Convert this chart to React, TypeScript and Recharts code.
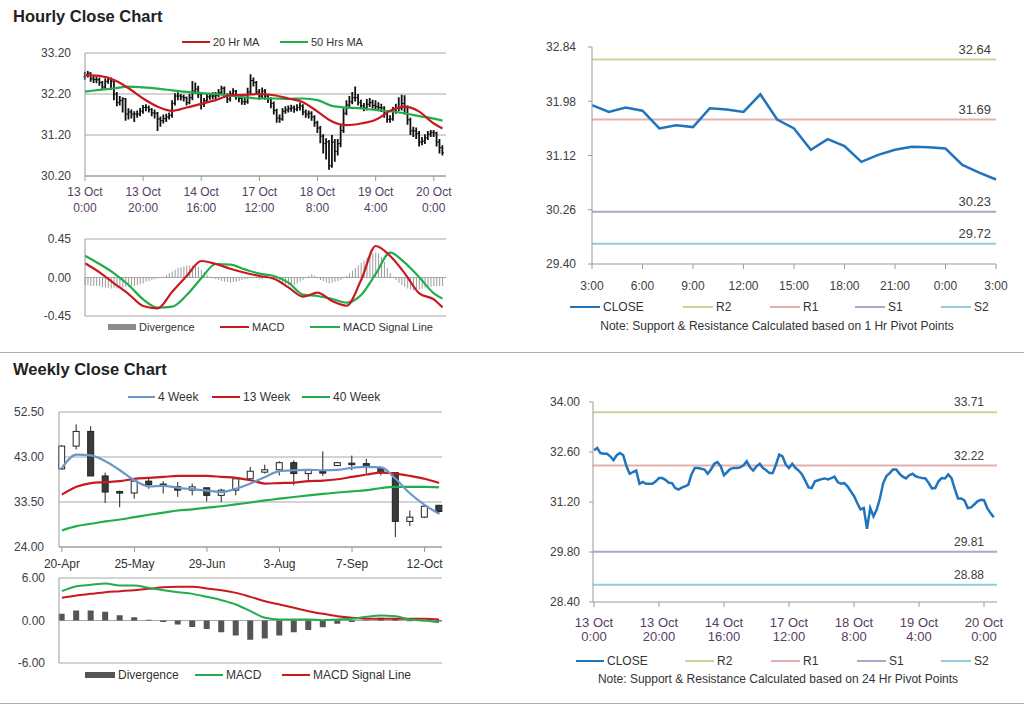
import React from 'react';
import { ComposedChart, Line, Bar, XAxis, YAxis, CartesianGrid, ReferenceLine } from 'recharts';

const FONT = '"Liberation Sans", Arial, Helvetica, sans-serif';

// ---------- Hourly data (13 Oct 0:00 .. 20 Oct 3:00) ----------
const hourlyFirstOpen = 32.62;
const hourlyClose = [
  32.65, 32.71, 32.57, 32.55, 32.55, 32.48, 32.37, 32.51, 32.57, 32.51,
  32.20, 31.99, 32.04, 32.08, 31.71, 31.76, 31.71, 31.71, 31.71, 31.78,
  31.87, 31.87, 31.82, 31.74, 31.73, 31.59, 31.55, 31.60, 31.64, 31.68,
  31.97, 32.15, 32.15, 32.13, 32.11, 31.99, 32.11, 32.27, 32.32, 32.20,
  31.95, 32.04, 32.13, 32.15, 32.15, 32.17, 32.23, 32.34, 32.17, 32.08,
  32.20, 32.27, 32.15, 32.09, 32.01, 32.01, 32.25, 32.53, 32.48, 32.25,
  32.15, 32.27, 32.15, 32.08, 31.97, 31.80, 31.61, 31.59, 31.78, 31.81,
  31.84, 31.86, 31.83, 31.87, 31.91, 31.76, 31.71, 31.73, 31.64, 31.50,
  31.37, 31.17, 30.99, 31.03, 30.45, 31.03, 30.80, 30.99, 31.31, 31.73,
  31.93, 32.01, 32.11, 32.11, 31.99, 31.91, 31.86, 31.95, 31.99, 31.92,
  31.89, 31.87, 31.86, 31.73, 31.58, 31.59, 31.78, 31.87, 31.86, 31.97,
  31.87, 31.57, 31.30, 31.30, 31.24, 31.03, 31.05, 31.13, 31.22, 31.26,
  31.25, 31.03, 30.89, 30.77,
];
const hourlyHigh = [
  32.74, 32.76, 32.73, 32.64, 32.62, 32.60, 32.52, 32.58, 32.62, 32.60,
  32.52, 32.25, 32.15, 32.12, 32.10, 31.85, 31.82, 31.78, 31.80, 31.86,
  31.93, 31.95, 31.92, 31.86, 31.82, 31.76, 31.65, 31.70, 31.72, 31.75,
  32.05, 32.22, 32.24, 32.20, 32.18, 32.14, 32.20, 32.52, 32.48, 32.40,
  32.25, 32.10, 32.20, 32.22, 32.24, 32.25, 32.32, 32.40, 32.38, 32.22,
  32.28, 32.34, 32.30, 32.20, 32.14, 32.10, 32.35, 32.68, 32.60, 32.52,
  32.32, 32.36, 32.32, 32.20, 32.12, 32.02, 31.84, 31.70, 31.86, 31.90,
  31.92, 31.94, 31.92, 31.95, 31.99, 31.95, 31.82, 31.80, 31.78, 31.68,
  31.55, 31.42, 31.22, 31.12, 31.08, 31.20, 31.10, 31.10, 31.45, 31.85,
  32.05, 32.15, 32.25, 32.38, 32.20, 32.06, 31.98, 32.08, 32.10, 32.06,
  32.05, 32.00, 31.96, 31.90, 31.78, 31.68, 31.88, 31.96, 32.12, 32.18,
  32.17, 31.92, 31.62, 31.40, 31.38, 31.30, 31.15, 31.22, 31.30, 31.32,
  31.32, 31.28, 31.10, 30.95,
];
const hourlyLow = [
  32.55, 32.60, 32.50, 32.47, 32.46, 32.40, 32.30, 32.33, 32.45, 32.30,
  32.05, 31.90, 31.92, 31.75, 31.55, 31.58, 31.60, 31.52, 31.62, 31.66,
  31.72, 31.78, 31.75, 31.66, 31.60, 31.30, 31.40, 31.48, 31.52, 31.58,
  31.62, 31.92, 32.05, 32.04, 32.02, 31.92, 31.95, 32.05, 32.20, 32.10,
  31.82, 31.88, 31.98, 32.06, 32.07, 32.08, 32.12, 32.18, 32.10, 31.98,
  32.02, 32.14, 32.06, 32.00, 31.94, 31.93, 31.96, 32.20, 32.38, 32.18,
  32.06, 32.10, 32.06, 31.98, 31.85, 31.70, 31.50, 31.50, 31.55, 31.72,
  31.75, 31.77, 31.74, 31.78, 31.80, 31.68, 31.62, 31.60, 31.55, 31.40,
  31.25, 31.00, 30.75, 30.60, 30.35, 30.40, 30.55, 30.70, 30.90, 31.25,
  31.68, 31.88, 31.95, 32.02, 31.92, 31.84, 31.78, 31.80, 31.88, 31.84,
  31.80, 31.78, 31.76, 31.62, 31.50, 31.50, 31.55, 31.72, 31.78, 31.80,
  31.70, 31.45, 31.20, 31.15, 31.10, 30.92, 30.95, 30.98, 31.08, 31.15,
  31.15, 30.92, 30.75, 30.70,
];
const hourlyTickIdx = [0, 20, 40, 60, 80, 100, 120];
const hourlyTickDate = ['13 Oct', '13 Oct', '14 Oct', '17 Oct', '18 Oct', '19 Oct', '20 Oct'];
const hourlyTickTime = ['0:00', '20:00', '16:00', '12:00', '8:00', '4:00', '0:00'];

// moving averages & MACD sampled at these hour indexes
const hourlySampleIdx = [0, 5, 10, 15, 20, 25, 30, 35, 40, 45, 50, 55, 60, 65, 70, 75, 80, 85, 90, 95, 100, 105, 110, 115, 120, 123];
const ma20Hr = [32.66, 32.64, 32.54, 32.34, 32.09, 31.89, 31.79, 31.87, 31.96, 32.05, 32.17, 32.18, 32.20, 32.17, 32.09, 32.00, 31.77, 31.53, 31.44, 31.48, 31.57, 31.79, 31.89, 31.77, 31.48, 31.36];
const ma50Hr = [32.26, 32.30, 32.34, 32.38, 32.36, 32.33, 32.29, 32.25, 32.22, 32.20, 32.16, 32.12, 32.09, 32.09, 32.08, 32.09, 32.05, 31.91, 31.87, 31.85, 31.81, 31.78, 31.73, 31.66, 31.60, 31.55];
const hourlyMacd = [0.166, 0.06, -0.068, -0.193, -0.333, -0.36, -0.166, 0.018, 0.193, 0.158, 0.103, 0.056, 0.018, -0.014, -0.115, -0.224, -0.177, -0.275, -0.33, -0.03, 0.368, 0.251, 0.049, -0.185, -0.255, -0.349];
const hourlySignal = [0.255, 0.158, 0.049, -0.088, -0.255, -0.353, -0.341, -0.205, -0.01, 0.158, 0.150, 0.095, 0.045, 0.018, -0.06, -0.2, -0.216, -0.251, -0.294, -0.205, 0.041, 0.29, 0.173, 0.002, -0.185, -0.247];
const hourlyDivergence = [
  -0.09, -0.09, -0.10, -0.10, -0.10, -0.10, -0.11, -0.12, -0.12, -0.13,
  -0.12, -0.13, -0.12, -0.12, -0.11, -0.11, -0.10, -0.10, -0.09, -0.08,
  -0.07, -0.05, -0.04, -0.03, -0.02, -0.01, 0.00, 0.01, 0.03, 0.05,
  0.07, 0.09, 0.11, 0.12, 0.13, 0.14, 0.14, 0.14, 0.13, 0.12,
  0.09, 0.06, 0.03, 0.01, -0.01, -0.02, -0.03, -0.04, -0.05, -0.05,
  -0.06, -0.05, -0.05, -0.04, -0.03, -0.02, -0.02, -0.01, -0.01, -0.01,
  -0.02, -0.02, -0.01, -0.01, -0.02, -0.03, -0.04, -0.05, -0.07, -0.08,
  -0.09, -0.10, -0.09, -0.07, -0.05, -0.03, -0.01, 0.02, 0.04, 0.02,
  -0.01, -0.03, -0.04, -0.06, -0.07, -0.06, -0.05, -0.04, -0.03, -0.01,
  0.02, 0.05, 0.08, 0.11, 0.14, 0.17, 0.20, 0.23, 0.26, 0.28,
  0.29, 0.28, 0.24, 0.18, 0.11, 0.05, 0.01, -0.03, -0.06, -0.09,
  -0.11, -0.13, -0.14, -0.15, -0.15, -0.14, -0.13, -0.12, -0.11, -0.11,
  -0.10, -0.10, -0.10, -0.10,
];

// ---------- 1 Hr pivot chart ----------
const pivotHours = ['3:00', '4:00', '5:00', '6:00', '7:00', '8:00', '9:00', '10:00', '11:00', '12:00', '13:00', '14:00', '15:00', '16:00', '17:00', '18:00', '19:00', '20:00', '21:00', '22:00', '23:00', '0:00', '1:00', '2:00', '3:00'];
const pivotClose = [31.92, 31.81, 31.88, 31.83, 31.55, 31.60, 31.57, 31.87, 31.85, 31.81, 32.09, 31.69, 31.55, 31.21, 31.38, 31.27, 31.02, 31.13, 31.21, 31.26, 31.25, 31.23, 30.97, 30.85, 30.74];
const levelNames = ['R2', 'R1', 'S1', 'S2'];
const levelColors = ['#c4d79b', '#e6b0b0', '#b4a2c8', '#92cddc'];
const levels1Hr = [32.64, 31.69, 30.23, 29.72];
const levels24Hr = [33.71, 32.22, 29.81, 28.88];

// ---------- Weekly data ----------
const weekLabels = ['20-Apr', '27-Apr', '4-May', '11-May', '18-May', '25-May', '1-Jun', '8-Jun', '15-Jun', '22-Jun', '29-Jun', '6-Jul', '13-Jul', '20-Jul', '27-Jul', '3-Aug', '10-Aug', '17-Aug', '24-Aug', '31-Aug', '7-Sep', '14-Sep', '21-Sep', '28-Sep', '5-Oct', '12-Oct', '19-Oct'];
const wOpen = [40.5, 45.3, 48.4, 39.0, 35.7, 35.4, 37.9, 37.3, 36.7, 36.0, 36.5, 34.9, 36.0, 38.4, 39.8, 40.3, 41.8, 39.5, 40.0, 41.2, 41.7, 41.6, 40.7, 39.7, 29.4, 30.3, 32.8];
const wHigh = [45.5, 49.9, 49.5, 39.7, 35.9, 38.3, 38.8, 37.9, 37.7, 37.4, 36.5, 36.3, 38.6, 40.9, 41.4, 42.1, 42.3, 40.5, 44.2, 41.9, 43.3, 42.6, 40.9, 39.7, 31.7, 32.9, 32.9];
const wLow = [40.3, 44.6, 39.0, 33.3, 32.4, 34.2, 36.3, 35.3, 34.6, 34.9, 33.6, 33.5, 34.9, 38.1, 39.5, 39.1, 37.0, 38.1, 39.0, 41.1, 40.2, 39.5, 39.1, 26.1, 28.4, 30.1, 31.0];
const wClose = [45.3, 48.4, 39.0, 35.6, 35.4, 37.9, 37.2, 37.0, 36.0, 36.7, 34.9, 36.0, 38.4, 40.0, 40.3, 41.8, 39.5, 40.2, 39.6, 41.8, 41.5, 41.2, 39.7, 29.4, 30.3, 32.6, 31.5];
const w4Week = [40.7, 43.5, 43.35, 42.1, 40.2, 38.1, 36.8, 36.9, 36.5, 36.2, 35.9, 35.6, 36.3, 37.4, 38.8, 40.0, 40.2, 40.3, 40.2, 40.3, 40.7, 40.9, 40.8, 38.4, 35.3, 32.9, 31.0];
const w13Week = [35.05, 36.7, 37.5, 37.7, 37.9, 38.4, 38.6, 38.8, 39.0, 39.0, 39.0, 38.8, 38.6, 38.1, 37.4, 37.5, 37.6, 37.9, 38.0, 38.3, 38.8, 39.3, 39.7, 39.5, 39.0, 38.4, 37.5];
const w40Week = [27.5, 28.4, 28.9, 29.4, 29.8, 30.3, 30.8, 31.25, 31.7, 31.95, 32.3, 32.6, 33.0, 33.4, 33.85, 34.2, 34.55, 34.9, 35.2, 35.5, 35.75, 36.0, 36.45, 36.7, 36.7, 36.7, 36.6];
const wDivergence = [0.94, 1.41, 1.41, 1.22, 0.75, 0.47, 0.1, -0.2, -0.56, -0.9, -1.2, -1.65, -2.1, -2.7, -2.55, -2.1, -1.65, -1.35, -0.95, -0.47, -0.2, 0.05, 0.4, 0.2, -0.1, -0.1, -0.15];
const wMacd = [4.14, 4.85, 5.04, 5.22, 4.94, 4.94, 4.6, 4.28, 4.0, 3.76, 3.34, 2.87, 2.26, 1.32, 0.38, 0.14, 0.14, 0.14, 0.05, 0.14, 0.24, 0.52, 0.7, 0.6, 0.14, 0.0, -0.24];
const wSignal = [3.2, 3.53, 3.76, 4.0, 4.14, 4.28, 4.47, 4.7, 4.75, 4.75, 4.52, 4.28, 3.9, 3.34, 2.73, 2.26, 1.79, 1.32, 0.94, 0.61, 0.38, 0.24, 0.24, 0.24, 0.24, 0.24, 0.14];
const weekTickIdx = [0, 5, 10, 15, 20, 25];

// ---------- colours ----------
const RED = '#c8191f';
const GREEN = '#22ad4c';
const BLUE_CLOSE = '#1f74be';
const BLUE_4W = '#6b98cc';
const AXIS = '#9a9a9a';
const GRID = '#a8a8a8';
const TICK = '#404040';
const DATE_TXT = '#573d63';

// ---------- tables ----------
const hourlyRows = hourlyClose.map((c, i) => {
  const s = hourlySampleIdx.indexOf(i);
  return {
    i,
    open: i === 0 ? hourlyFirstOpen : hourlyClose[i - 1],
    high: hourlyHigh[i],
    low: hourlyLow[i],
    close: c,
    range: [hourlyLow[i], hourlyHigh[i]],
    div: hourlyDivergence[i],
    ma20: s >= 0 ? ma20Hr[s] : null,
    ma50: s >= 0 ? ma50Hr[s] : null,
    macd: s >= 0 ? hourlyMacd[s] : null,
    signal: s >= 0 ? hourlySignal[s] : null,
  };
});
const pivotRows = pivotClose.map((c, i) => ({ i, close: c }));
const weekRows = weekLabels.map((w, i) => ({
  i,
  open: wOpen[i],
  high: wHigh[i],
  low: wLow[i],
  close: wClose[i],
  range: [wLow[i], wHigh[i]],
  w4: w4Week[i],
  w13: w13Week[i],
  w40: w40Week[i],
  div: wDivergence[i],
  macd: wMacd[i],
  signal: wSignal[i],
}));

// ---------- shapes ----------
const OhlcShape = (props: any) => {
  const { x, y, width, height, payload } = props;
  if (x == null || y == null) return null;
  const top = Math.min(y, y + height);
  const h = Math.abs(height);
  const span = payload.high - payload.low || 1;
  const k = h / span;
  const oy = top + (payload.high - payload.open) * k;
  const cy = top + (payload.high - payload.close) * k;
  const cx = x + width / 2;
  return (
    <g>
      <line x1={cx} x2={cx} y1={top} y2={top + h} stroke="#111" strokeWidth={1.8} />
      <line x1={cx - 1.5} x2={cx} y1={oy} y2={oy} stroke="#111" strokeWidth={1} />
      <line x1={cx} x2={cx + 1.5} y1={cy} y2={cy} stroke="#111" strokeWidth={1} />
    </g>
  );
};

const CandleShape = (props: any) => {
  const { x, y, width, height, payload } = props;
  if (x == null || y == null) return null;
  const top = Math.min(y, y + height);
  const h = Math.abs(height);
  const span = payload.high - payload.low || 1;
  const k = h / span;
  const bTop = top + (payload.high - Math.max(payload.open, payload.close)) * k;
  const bBot = top + (payload.high - Math.min(payload.open, payload.close)) * k;
  const up = payload.close >= payload.open;
  const cx = x + width / 2;
  return (
    <g>
      <line x1={cx} x2={cx} y1={top} y2={top + h} stroke="#222" strokeWidth={1} />
      <rect x={cx - 3} y={bTop} width={6} height={Math.max(bBot - bTop, 1.5)} fill={up ? '#ffffff' : '#3a3a3a'} stroke="#222" strokeWidth={1} />
    </g>
  );
};

const makeDateTick = (d1: number, d2: number, fs: number) => (props: any) => {
  const { x, y, payload } = props;
  const k = hourlyTickIdx.indexOf(payload.value);
  if (k < 0) return null;
  return (
    <g>
      <text x={x} y={y + d1} textAnchor="middle" fontSize={fs} fontFamily={FONT} fill={DATE_TXT}>{hourlyTickDate[k]}</text>
      <text x={x} y={y + d2} textAnchor="middle" fontSize={fs} fontFamily={FONT} fill={DATE_TXT}>{hourlyTickTime[k]}</text>
    </g>
  );
};

const levelLabel = (txt: string, dx: number, fs: number) => (props: any) => {
  const vb = props.viewBox || {};
  return (
    <text x={vb.x + vb.width - dx} y={vb.y - 6} textAnchor="end" fontSize={fs} fontFamily={FONT} fill={TICK}>{txt}</text>
  );
};

type KeyItem = { x: number; w: number; color: string; label: string; kind: 'line' | 'block'; t?: number };
const KeyRow = ({ y, items, fs }: { y: number; items: KeyItem[]; fs: number }) => (
  <>
    {items.map((it) => (
      <div key={it.label} style={{ position: 'absolute', left: it.x, top: y - 8, height: 16, display: 'flex', alignItems: 'center', whiteSpace: 'nowrap', fontSize: fs, fontFamily: FONT, color: '#333' }}>
        <span style={{ display: 'inline-block', width: it.w, height: it.kind === 'block' ? 6 : it.t || 2, background: it.color, marginRight: 3 }} />
        <span>{it.label}</span>
      </div>
    ))}
  </>
);

const tickStyle = { fill: TICK, fontSize: 12, fontFamily: FONT };
const fmt2 = (v: number) => v.toFixed(2);

export default function App() {
  return (
    <div style={{ position: 'absolute', left: 0, top: 0, width: 1024, height: 706, background: '#fff', overflow: 'hidden', fontFamily: FONT }}>
      {/* titles */}
      <div style={{ position: 'absolute', left: 13, top: 6, fontSize: 16.5, fontWeight: 'bold', lineHeight: '20px', color: '#222' }}>Hourly Close Chart</div>
      <div style={{ position: 'absolute', left: 13, top: 359, fontSize: 16.5, fontWeight: 'bold', lineHeight: '20px', color: '#222' }}>Weekly Close Chart</div>
      <div style={{ position: 'absolute', left: 0, top: 352, width: 1024, height: 1, background: '#b0b0b0' }} />
      <div style={{ position: 'absolute', left: 0, top: 703, width: 1024, height: 1, background: '#b0b0b0' }} />

      {/* Hourly OHLC chart */}
      <KeyRow y={42} fs={11} items={[
        { x: 182, w: 28, color: RED, label: '20 Hr MA', kind: 'line' },
        { x: 280, w: 28, color: GREEN, label: '50 Hrs MA', kind: 'line' },
      ]} />
      <div style={{ position: 'absolute', left: 0, top: 40 }}>
        <ComposedChart width={460} height={176} data={hourlyRows} margin={{ top: 13, right: 14, bottom: 0, left: 0 }}>
          <CartesianGrid horizontal vertical={false} stroke={GRID} />
          <XAxis dataKey="i" type="number" domain={[0, 124.2]} ticks={hourlyTickIdx} interval={0} height={40} tickSize={5} tickLine={{ stroke: AXIS }} axisLine={{ stroke: AXIS }} tick={makeDateTick(13, 29, 12)} />
          <YAxis type="number" domain={[30.2, 33.2]} ticks={[30.2, 31.2, 32.2, 33.2]} interval={0} width={85} tickLine={false} tickSize={6} tickMargin={8} axisLine={{ stroke: AXIS }} tick={tickStyle} tickFormatter={fmt2} allowDataOverflow />
          <Bar dataKey="range" barSize={3} shape={<OhlcShape />} isAnimationActive={false} />
          <Line dataKey="ma50" type="monotone" stroke={GREEN} strokeWidth={2.2} dot={false} activeDot={false} connectNulls isAnimationActive={false} />
          <Line dataKey="ma20" type="monotone" stroke={RED} strokeWidth={2.2} dot={false} activeDot={false} connectNulls isAnimationActive={false} />
        </ComposedChart>
      </div>

      {/* Hourly MACD */}
      <div style={{ position: 'absolute', left: 0, top: 230 }}>
        <ComposedChart width={460} height={96} data={hourlyRows} margin={{ top: 9, right: 14, bottom: 10, left: 0 }}>
          <CartesianGrid horizontal vertical={false} stroke={GRID} />
          <XAxis dataKey="i" type="number" domain={[0, 124.2]} hide />
          <YAxis type="number" domain={[-0.45, 0.45]} ticks={[-0.45, 0, 0.45]} interval={0} width={85} tickLine={false} tickSize={6} tickMargin={8} axisLine={{ stroke: AXIS }} tick={tickStyle} tickFormatter={fmt2} allowDataOverflow />
          <Bar dataKey="div" barSize={1} fill="#9a9a9a" isAnimationActive={false} />
          <Line dataKey="signal" type="monotone" stroke={GREEN} strokeWidth={2.2} dot={false} activeDot={false} connectNulls isAnimationActive={false} />
          <Line dataKey="macd" type="monotone" stroke={RED} strokeWidth={2.2} dot={false} activeDot={false} connectNulls isAnimationActive={false} />
        </ComposedChart>
      </div>
      <KeyRow y={327} fs={11} items={[
        { x: 108, w: 28, color: '#8c8c8c', label: 'Divergence', kind: 'block' },
        { x: 220, w: 29, color: RED, label: 'MACD', kind: 'line' },
        { x: 310, w: 30, color: GREEN, label: 'MACD Signal Line', kind: 'line' },
      ]} />

      {/* 1 Hr pivot chart */}
      <div style={{ position: 'absolute', left: 520, top: 30 }}>
        <ComposedChart width={490} height={264} data={pivotRows} margin={{ top: 17, right: 14, bottom: 0, left: 0 }}>
          <XAxis dataKey="i" type="number" domain={[0, 24]} ticks={[0, 3, 6, 9, 12, 15, 18, 21, 24]} interval={0} height={30} tickSize={5} tickMargin={12} tickLine={{ stroke: AXIS }} axisLine={{ stroke: AXIS }} tick={tickStyle} tickFormatter={(v: number) => pivotHours[v]} />
          <YAxis type="number" domain={[29.4, 32.84]} ticks={[29.4, 30.26, 31.12, 31.98, 32.84]} interval={0} width={72} tickSize={4} tickMargin={12} tickLine={{ stroke: AXIS }} axisLine={{ stroke: AXIS }} tick={tickStyle} tickFormatter={fmt2} allowDataOverflow />
          {levels1Hr.map((v, k) => (
            <ReferenceLine key={levelNames[k]} y={v} stroke={levelColors[k]} strokeWidth={2} label={levelLabel(v.toFixed(2), 5, 13)} />
          ))}
          <Line dataKey="close" type="linear" stroke={BLUE_CLOSE} strokeWidth={2.5} dot={false} activeDot={false} isAnimationActive={false} />
        </ComposedChart>
      </div>
      <KeyRow y={307} fs={12} items={[
        { x: 570, w: 30, color: BLUE_CLOSE, label: 'CLOSE', kind: 'line', t: 2.5 },
        { x: 683, w: 30, color: levelColors[0], label: 'R2', kind: 'line', t: 1.5 },
        { x: 770, w: 30, color: levelColors[1], label: 'R1', kind: 'line', t: 1.5 },
        { x: 855, w: 30, color: levelColors[2], label: 'S1', kind: 'line', t: 1.5 },
        { x: 941, w: 30, color: levelColors[3], label: 'S2', kind: 'line', t: 1.5 },
      ]} />
      <div style={{ position: 'absolute', left: 520, width: 514, top: 318, textAlign: 'center', fontSize: 12, lineHeight: '16px', color: '#333' }}>Note: Support &amp; Resistance Calculated based on 1 Hr Pivot Points</div>

      {/* Weekly candle chart */}
      <KeyRow y={397} fs={12} items={[
        { x: 128, w: 27, color: BLUE_4W, label: '4 Week', kind: 'line' },
        { x: 212, w: 28, color: RED, label: '13 Week', kind: 'line' },
        { x: 302, w: 28, color: GREEN, label: '40 Week', kind: 'line' },
      ]} />
      <div style={{ position: 'absolute', left: 0, top: 400 }}>
        <ComposedChart width={460} height={172} data={weekRows} margin={{ top: 12, right: 18, bottom: 0, left: 0 }}>
          <CartesianGrid horizontal vertical={false} stroke={GRID} />
          <XAxis dataKey="i" type="number" domain={[-0.2, 26.2]} ticks={weekTickIdx} interval={0} height={25} tickSize={5} tickMargin={7} tickLine={{ stroke: AXIS }} axisLine={{ stroke: AXIS }} tick={{ fill: '#333', fontSize: 12, fontFamily: FONT }} tickFormatter={(v: number) => weekLabels[v]} />
          <YAxis type="number" domain={[24, 52.5]} ticks={[24, 33.5, 43, 52.5]} interval={0} width={59} tickLine={false} tickSize={6} tickMargin={9} axisLine={{ stroke: AXIS }} tick={tickStyle} tickFormatter={fmt2} allowDataOverflow />
          <Line dataKey="w40" type="monotone" stroke={GREEN} strokeWidth={2.2} dot={false} activeDot={false} isAnimationActive={false} />
          <Line dataKey="w13" type="monotone" stroke={RED} strokeWidth={2.2} dot={false} activeDot={false} isAnimationActive={false} />
          <Bar dataKey="range" barSize={6} shape={<CandleShape />} isAnimationActive={false} />
          <Line dataKey="w4" type="monotone" stroke={BLUE_4W} strokeWidth={2.2} dot={false} activeDot={false} isAnimationActive={false} />
        </ComposedChart>
      </div>

      {/* Weekly MACD */}
      <div style={{ position: 'absolute', left: 0, top: 570 }}>
        <ComposedChart width={460} height={103} data={weekRows} margin={{ top: 8, right: 18, bottom: 10, left: 0 }}>
          <CartesianGrid horizontal vertical={false} stroke={GRID} />
          <XAxis dataKey="i" type="number" domain={[-0.2, 26.2]} hide />
          <YAxis type="number" domain={[-6, 6]} ticks={[-6, 0, 6]} interval={0} width={59} tickLine={false} tickSize={6} tickMargin={8} axisLine={{ stroke: AXIS }} tick={tickStyle} tickFormatter={fmt2} allowDataOverflow />
          <Bar dataKey="div" barSize={6} fill="#555555" isAnimationActive={false} />
          <Line dataKey="signal" type="monotone" stroke={RED} strokeWidth={2} dot={false} activeDot={false} isAnimationActive={false} />
          <Line dataKey="macd" type="monotone" stroke={GREEN} strokeWidth={2} dot={false} activeDot={false} isAnimationActive={false} />
        </ComposedChart>
      </div>
      <KeyRow y={675} fs={12} items={[
        { x: 85, w: 30, color: '#555555', label: 'Divergence', kind: 'block' },
        { x: 195, w: 28, color: GREEN, label: 'MACD', kind: 'line' },
        { x: 282, w: 28, color: RED, label: 'MACD Signal Line', kind: 'line' },
      ]} />

      {/* 24 Hr pivot chart */}
      <div style={{ position: 'absolute', left: 520, top: 390 }}>
        <ComposedChart width={490} height={257} data={hourlyRows} margin={{ top: 12, right: 13, bottom: 0, left: 0 }}>
          <XAxis dataKey="i" type="number" domain={[-0.3, 124]} ticks={hourlyTickIdx} interval={0} height={45} tickSize={5} tickLine={{ stroke: AXIS }} axisLine={{ stroke: AXIS }} tick={makeDateTick(18, 32, 13)} />
          <YAxis type="number" domain={[28.4, 34]} ticks={[28.4, 29.8, 31.2, 32.6, 34]} interval={0} width={73} tickSize={4} tickMargin={9} tickLine={{ stroke: AXIS }} axisLine={{ stroke: AXIS }} tick={tickStyle} tickFormatter={fmt2} allowDataOverflow />
          {levels24Hr.map((v, k) => (
            <ReferenceLine key={levelNames[k]} y={v} stroke={levelColors[k]} strokeWidth={2} label={levelLabel(v.toFixed(2), 13, 12)} />
          ))}
          <Line dataKey="close" type="linear" stroke={BLUE_CLOSE} strokeWidth={2.5} dot={false} activeDot={false} isAnimationActive={false} />
        </ComposedChart>
      </div>
      <KeyRow y={661} fs={12} items={[
        { x: 576, w: 28, color: BLUE_CLOSE, label: 'CLOSE', kind: 'line', t: 2.5 },
        { x: 685, w: 29, color: levelColors[0], label: 'R2', kind: 'line', t: 1.5 },
        { x: 771, w: 29, color: levelColors[1], label: 'R1', kind: 'line', t: 1.5 },
        { x: 857, w: 29, color: levelColors[2], label: 'S1', kind: 'line', t: 1.5 },
        { x: 941, w: 30, color: levelColors[3], label: 'S2', kind: 'line', t: 1.5 },
      ]} />
      <div style={{ position: 'absolute', left: 520, width: 516, top: 671, textAlign: 'center', fontSize: 12, lineHeight: '16px', color: '#333' }}>Note: Support &amp; Resistance Calculated based on 24 Hr Pivot Points</div>
    </div>
  );
}
